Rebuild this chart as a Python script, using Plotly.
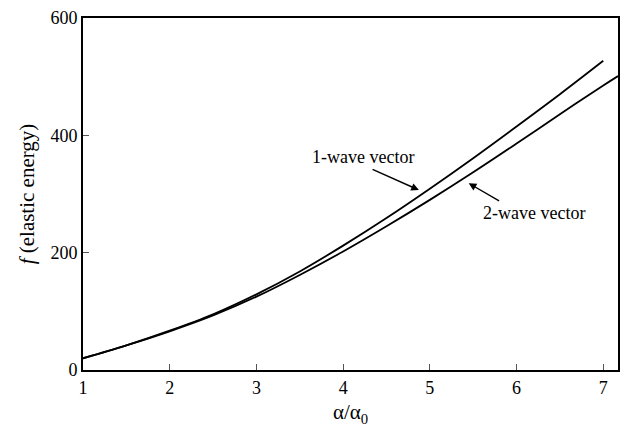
import plotly.graph_objects as go

# data
x1 = [1, 1.5, 2, 2.5, 3, 3.5, 4, 4.5, 5, 5.5, 6, 6.5, 7]
f1 = [20, 42, 67, 95, 129, 168, 212, 259, 309, 361, 415, 470, 527]
x2 = [1, 1.5, 2, 2.5, 3, 3.5, 4, 4.5, 5, 5.5, 6, 6.5, 7, 7.17]
f2 = [20, 42, 66, 93, 125, 162, 202, 245, 290, 337, 386, 436, 485, 501]
x_ticks = [1, 2, 3, 4, 5, 6, 7]
y_ticks = [0, 200, 400, 600]
labels = ["1-wave vector", "2-wave vector"]
label_pos = [(4.23, 363), (6.2, 268)]
arrow_head = [(4.874, 306.7), (5.448, 318.3)]
arrow_tail = [(4.322, 343), (5.816, 286.7)]

serif = "'Liberation Serif', 'DejaVu Serif', serif"
font = dict(family=serif, size=18, color="black")

fig = go.Figure()
fig.add_trace(go.Scatter(x=x1, y=f1, mode="lines", line=dict(color="black", width=1.8, shape="spline"), showlegend=False))
fig.add_trace(go.Scatter(x=x2, y=f2, mode="lines", line=dict(color="black", width=1.8, shape="spline"), showlegend=False))

for lab, (tx, ty) in zip(labels, label_pos):
    fig.add_annotation(x=tx, y=ty, text=lab, showarrow=False, font=font)
for (hx, hy), (tx, ty) in zip(arrow_head, arrow_tail):
    fig.add_annotation(x=hx, y=hy, ax=tx, ay=ty, axref="x", ayref="y", text="",
                       showarrow=True, arrowhead=2, arrowsize=1.1, arrowwidth=1.4, arrowcolor="black")

fig.update_xaxes(range=[1, 7.17], tickvals=x_ticks, ticks="inside", ticklen=6, tickcolor="#555",
                 showline=True, linecolor="black", linewidth=2, mirror=True, showgrid=False, zeroline=False,
                 title=dict(text="α/α<sub>0</sub>", font=dict(family=serif, size=21, color="black"), standoff=8),
                 tickfont=font)
fig.update_yaxes(range=[0, 600], tickvals=y_ticks, ticks="inside", ticklen=6, tickcolor="#555",
                 showline=True, linecolor="black", linewidth=2, mirror=True, showgrid=False, zeroline=False,
                 title=dict(text="<i>f</i> (elastic energy)", font=dict(family=serif, size=21, color="black"), standoff=10),
                 tickfont=font)
fig.update_layout(width=628, height=432, margin=dict(l=83, r=8, t=9, b=62),
                  plot_bgcolor="white", paper_bgcolor="white", font=dict(family=serif))
fig.write_html("out.html")
